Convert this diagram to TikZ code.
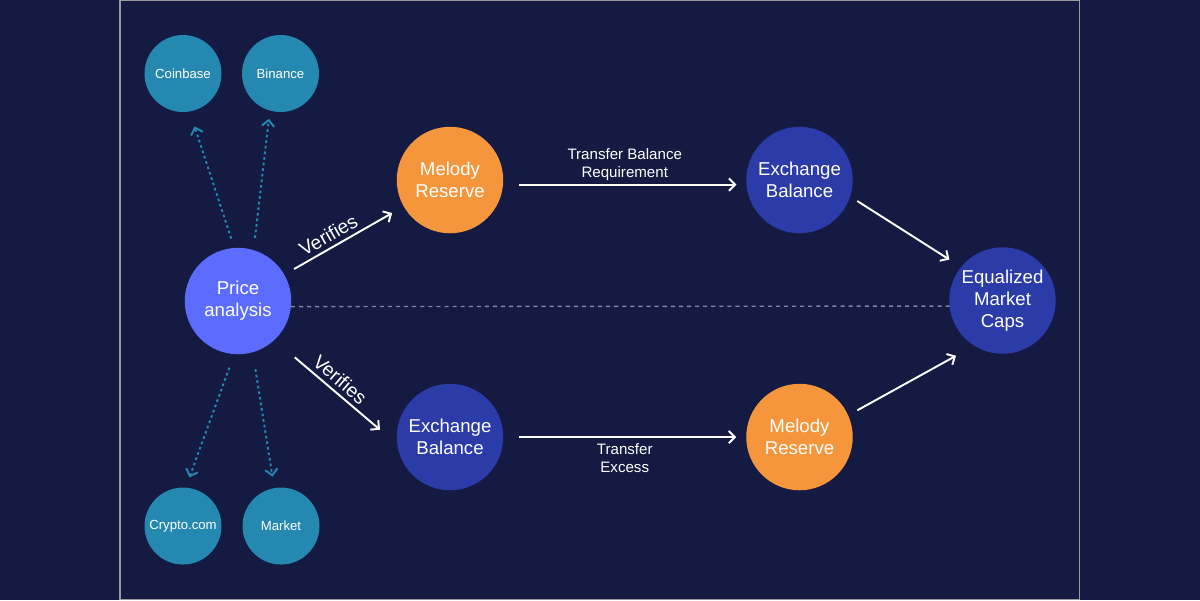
\documentclass[tikz,border=0pt]{standalone}
\usepackage{fontspec}
\setmainfont{Liberation Sans}
\usetikzlibrary{arrows.meta}
\definecolor{navy}{HTML}{141A42}
\definecolor{framegray}{HTML}{9A9A9E}
\definecolor{teal}{HTML}{2488B0}
\definecolor{periwinkle}{HTML}{5B6CFF}
\definecolor{melody}{HTML}{F5963C}
\definecolor{royal}{HTML}{2B3BA8}
\definecolor{dashgray}{HTML}{7E84A2}

\begin{document}
\begin{tikzpicture}[x=0.02cm,y=-0.02cm,>={Straight Barb[length=3.5pt,width=7pt]},
    bubble/.style={circle,inner sep=0pt,outer sep=0pt,text=white,align=center},
    big/.style={bubble,minimum size=2.13cm,font=\fontsize{10.6}{12.5}\selectfont},
    small/.style={bubble,fill=teal,minimum size=1.54cm,font=\fontsize{7.5}{9}\selectfont},
    flow/.style={->,white,line width=1.1pt},
    feed/.style={->,teal,line width=1.1pt,dash pattern=on 1.5pt off 1.7pt},
    lbl/.style={text=white,align=center,font=\fontsize{8.6}{10.2}\selectfont},
    verif/.style={lbl,sloped,above,inner sep=2.5pt,font=\fontsize{11}{13}\selectfont}]
    % background and frame
    \fill[navy] (0,0) rectangle (1200,600);
    \draw[framegray,line width=0.6pt] (120,0.5) rectangle (1079.5,599.5);
    % circles
    \node[big,fill=periwinkle] (price) at (238,301) {Price\\analysis};
    \node[small] (coinbase) at (183,73.5) {Coinbase};
    \node[small] (binance) at (280.5,73.5) {Binance};
    \node[small] (crypto) at (183,526) {Crypto.com};
    \node[small] (market) at (281,526) {Market};
    \node[big,fill=melody] (melodyA) at (450,180) {Melody\\Reserve};
    \node[big,fill=royal] (exchA) at (799.5,180) {Exchange\\Balance};
    \node[big,fill=royal] (exchB) at (450,437) {Exchange\\Balance};
    \node[big,fill=melody] (melodyB) at (799.5,437) {Melody\\Reserve};
    \node[big,fill=royal] (caps) at (1002.5,300.5) {Equalized\\Market\\Caps};
    % price feeds
    \foreach \a/\b/\s/\t in {94/coinbase.-80/5.6/9,73/binance.-106/7/4.7,
        -94/crypto.86/8.2/6.2,-74/market.100/9.8/6.6}
        \draw[feed,shorten <=\s pt,shorten >=\t pt] (price.\a) -- (\b);
    % verification and transfers
    \draw[flow,shorten <=6.5pt,shorten >=7.6pt] (price) --
        node[verif,pos=0.42] {Verifies} (melodyA);
    \draw[flow,shorten <=15.3pt,shorten >=12.9pt] (price.-47) --
        node[verif,pos=0.47] {Verifies} (exchB.188);
    \draw[flow,shorten <=9.2pt,shorten >=5.7pt] (melodyA.-5) --
        node[lbl,above,inner sep=2pt] {Transfer Balance\\Requirement} (exchA.185);
    \draw[flow,shorten <=9pt,shorten >=5.7pt] (exchB.east) --
        node[lbl,below] {Transfer\\Excess} (melodyB.west);
    \draw[flow,shorten <=4.8pt,shorten >=7.9pt] (exchA.-18) -- (caps.141);
    \draw[flow,shorten <=6pt,shorten >=11.9pt] (melodyB.24) -- (caps.-122);
    \draw[dashgray,line width=0.8pt,dash pattern=on 2.3pt off 2.3pt] (price.-6) -- (caps.186);
\end{tikzpicture}
\end{document}
